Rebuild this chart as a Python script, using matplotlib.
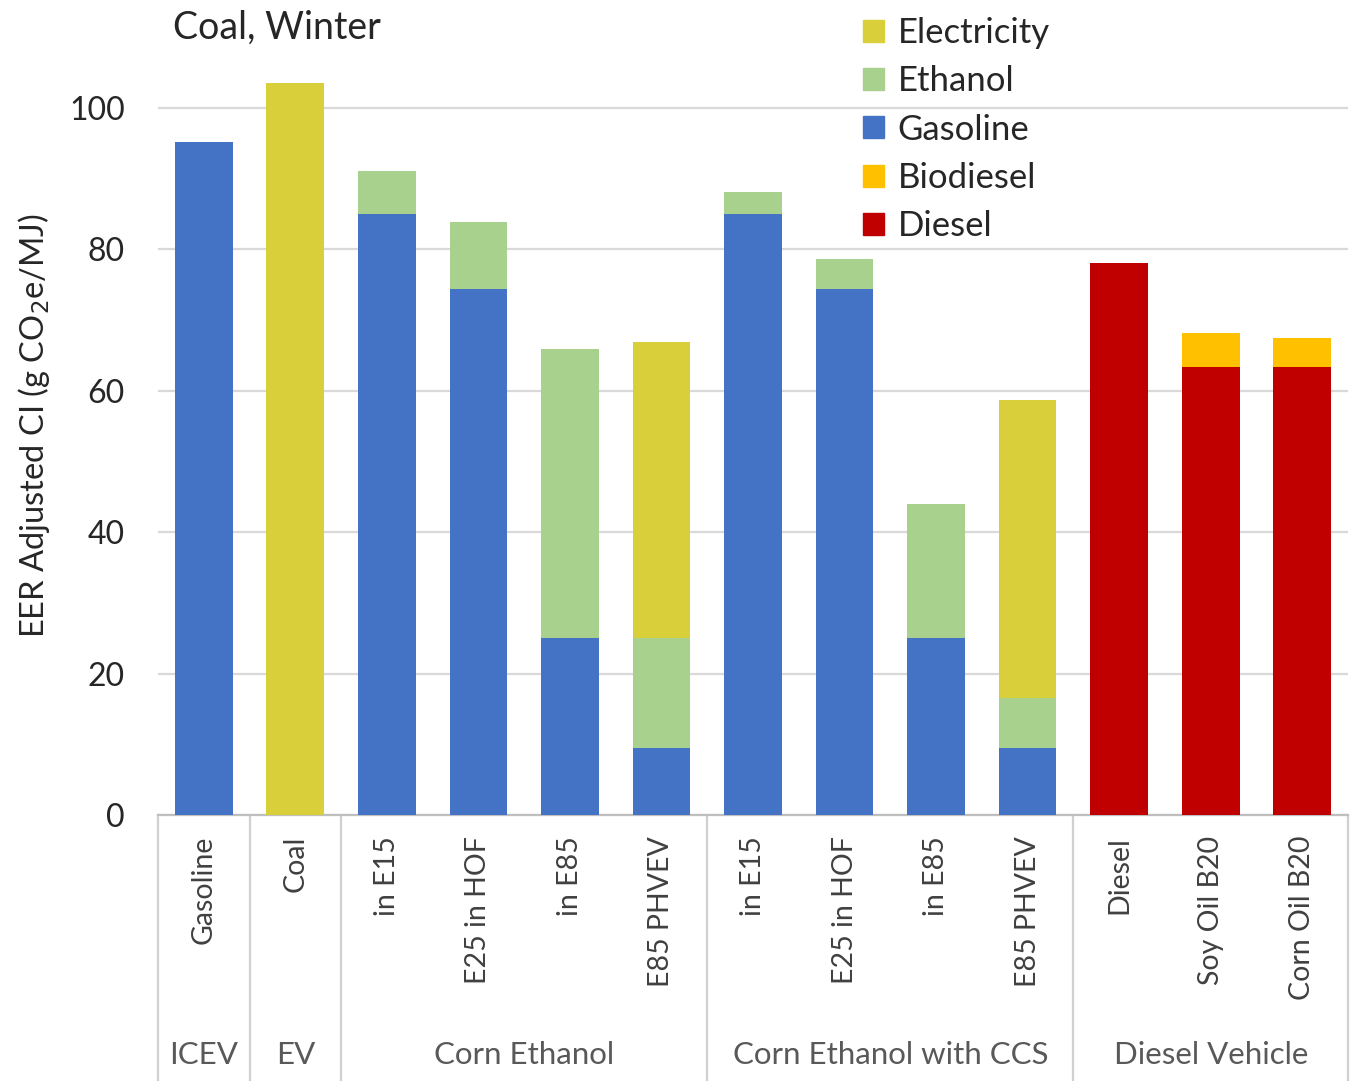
import numpy as np
import matplotlib
matplotlib.use("Agg")
import matplotlib.pyplot as plt
from matplotlib.patches import Patch

plt.rcParams['font.family'] = ['Lato', 'DejaVu Sans']

# bar labels and group labels
labels = ["Gasoline", "Coal", "in E15", "E25 in HOF", "in E85", "E85 PHVEV",
          "in E15", "E25 in HOF", "in E85", "E85 PHVEV",
          "Diesel", "Soy Oil B20", "Corn Oil B20"]
groups = ["ICEV", "EV", "Corn Ethanol", "Corn Ethanol with CCS", "Diesel Vehicle"]
group_spans = [(0, 0), (1, 1), (2, 5), (6, 9), (10, 12)]

# stacked components, g CO2e/MJ (bottom to top: diesel, gasoline, ethanol, biodiesel, electricity)
diesel = [0, 0, 0, 0, 0, 0, 0, 0, 0, 0, 78.1, 63.4, 63.4]
gasoline = [95.2, 0, 85.0, 74.3, 25.0, 9.5, 85.0, 74.3, 25.0, 9.5, 0, 0, 0]
ethanol = [0, 0, 6.1, 9.6, 40.9, 15.5, 3.1, 4.3, 19.0, 7.0, 0, 0, 0]
biodiesel = [0, 0, 0, 0, 0, 0, 0, 0, 0, 0, 0, 4.8, 4.1]
electricity = [0, 103.5, 0, 0, 0, 41.9, 0, 0, 0, 42.2, 0, 0, 0]

colors = {"Electricity": "#D9CF3A", "Ethanol": "#A9D18E", "Gasoline": "#4472C4",
          "Biodiesel": "#FFC000", "Diesel": "#C00000"}

fig = plt.figure(figsize=(13.5, 10.81), dpi=100)
ax = fig.add_axes([158/1350, 1 - 815/1081, 1190/1350, 778/1081])

x = np.arange(len(labels))
w = 0.63
bottom = np.zeros(len(labels))
for name, vals in [("Diesel", diesel), ("Gasoline", gasoline), ("Ethanol", ethanol),
                   ("Biodiesel", biodiesel), ("Electricity", electricity)]:
    vals = np.array(vals)
    ax.bar(x, vals, w, bottom=bottom, color=colors[name], zorder=3)
    bottom += vals

ax.set_xlim(-0.5, len(labels) - 0.5)
ax.set_ylim(0, 110)
ax.set_yticks([0, 20, 40, 60, 80, 100])
ax.yaxis.grid(True, color="#D9D9D9", lw=1.6, zorder=0)
ax.tick_params(axis='y', length=0, labelsize=23, labelcolor="#262626", pad=24)
for s in ["top", "right", "left"]:
    ax.spines[s].set_visible(False)
ax.spines["bottom"].set_color("#BFBFBF")
ax.spines["bottom"].set_linewidth(1.6)

ax.set_xticks(x)
ax.set_xticklabels(labels, rotation=90, fontsize=20.5, color="#404040")
ax.tick_params(axis='x', length=0, pad=15)

ax.set_ylabel("EER Adjusted CI (g CO$_2$e/MJ)", fontsize=23.5, color="#262626", labelpad=12)

# group separators and labels
for sx in [-0.5, 0.5, 1.5, 5.5, 9.5, 12.5]:
    ax.plot([sx, sx], [0, -0.342], transform=ax.get_xaxis_transform(),
            color="#D0D0D0", lw=1.6, clip_on=False)
for g, (a, b) in zip(groups, group_spans):
    ax.text((a + b) / 2, -0.308, g, transform=ax.get_xaxis_transform(),
            ha="center", va="center", fontsize=22.5, color="#595959")

fig.text(173/1350, 1 - 28/1081, "Coal, Winter", fontsize=27, color="#262626",
         ha="left", va="center")

order = ["Electricity", "Ethanol", "Gasoline", "Biodiesel", "Diesel"]
handles = [Patch(color=colors[n], label=n) for n in order]
ax.legend(handles=handles, loc="upper left", bbox_to_anchor=(863/1350, 1 - 17/1081),
          bbox_transform=fig.transFigure, frameon=False, fontsize=25, borderpad=0,
          borderaxespad=0, handlelength=0.6, handleheight=0.6, handletextpad=0.4,
          labelspacing=0.47, labelcolor="#262626")

fig.savefig("out.png", dpi=100)
